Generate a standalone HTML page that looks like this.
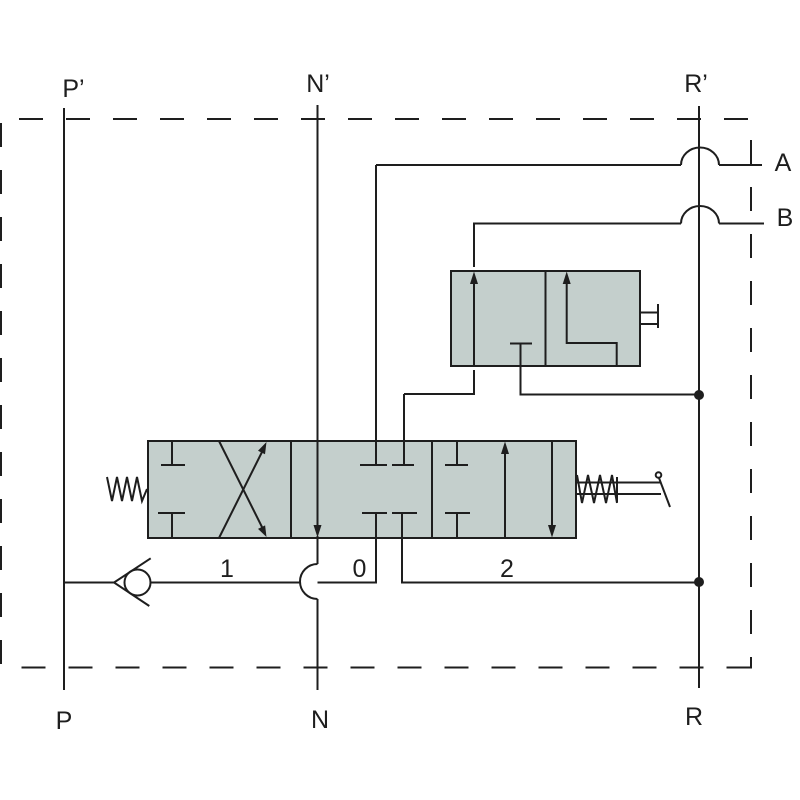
<!DOCTYPE html>
<html>
<head>
<meta charset="utf-8">
<style>
html,body{margin:0;padding:0;background:#fff;}
svg{display:block;}
text{font-family:"Liberation Sans",sans-serif;font-size:25px;fill:#1e1e1e;}
</style>
</head>
<body>
<svg width="800" height="800" viewBox="0 0 800 800" xmlns="http://www.w3.org/2000/svg">
<rect width="800" height="800" fill="#fff"/>
<g stroke="#1e1e1e" stroke-width="2" fill="none">
  <!-- dashed border -->
  <line x1="19" y1="119" x2="751" y2="119" stroke-dasharray="24 23"/>
  <line x1="21.5" y1="667.5" x2="751" y2="667.5" stroke-dasharray="24 23"/>
  <line x1="751" y1="140" x2="751" y2="668.5" stroke-dasharray="24 23"/>
  <line x1="1" y1="123" x2="1" y2="664" stroke-dasharray="24 23"/>

  <!-- main vertical lines -->
  <line x1="64" y1="108" x2="64" y2="690"/>
  <line x1="699" y1="106" x2="699" y2="688"/>
</g>

<!-- main valve block -->
<rect x="148" y="441" width="428" height="97" fill="#c4cfcc" stroke="#1e1e1e" stroke-width="2"/>
<!-- small valve block -->
<rect x="451" y="271" width="189" height="95" fill="#c4cfcc" stroke="#1e1e1e" stroke-width="2"/>

<g stroke="#1e1e1e" stroke-width="2" fill="none">
  <!-- main block dividers -->
  <line x1="291" y1="441" x2="291" y2="538"/>
  <line x1="432" y1="441" x2="432" y2="538"/>

  <!-- left section T stops -->
  <line x1="172" y1="441" x2="172" y2="465"/>
  <line x1="161" y1="465" x2="185" y2="465"/>
  <line x1="172" y1="513" x2="172" y2="538"/>
  <line x1="158" y1="513" x2="185" y2="513"/>
  <!-- X lines -->
  <line x1="219" y1="441" x2="264" y2="531"/>
  <line x1="219" y1="538" x2="264" y2="448"/>

  <!-- N line -->
  <line x1="317.5" y1="105" x2="317.5" y2="528"/>
  <line x1="317.5" y1="536" x2="317.5" y2="564"/>
  <path d="M317.5,564 A17.5,17.5 0 0 0 317.5,599"/>
  <line x1="317.5" y1="599" x2="317.5" y2="690"/>

  <!-- middle section T stops -->
  <line x1="376" y1="165" x2="376" y2="465"/>
  <line x1="360" y1="465" x2="387" y2="465"/>
  <line x1="404" y1="394" x2="404" y2="465"/>
  <line x1="392" y1="465" x2="414" y2="465"/>
  <line x1="362" y1="513" x2="387" y2="513"/>
  <line x1="392" y1="513" x2="417" y2="513"/>
  <polyline points="376,513 376,582.5 317.5,582.5"/>
  <polyline points="402,513 402,582.5 699,582.5"/>

  <!-- right section -->
  <line x1="457" y1="441" x2="457" y2="465"/>
  <line x1="445" y1="465" x2="468" y2="465"/>
  <line x1="457" y1="513" x2="457" y2="538"/>
  <line x1="445" y1="513" x2="470" y2="513"/>
  <line x1="505" y1="538" x2="505" y2="450"/>
  <line x1="552" y1="441" x2="552" y2="528"/>

  <!-- left spring -->
  <polyline points="107,477 112,501 117,477 122,501 127,477 132,501 137,477 142,501 147,489"/>
  <!-- right spring & lever -->
  <polyline points="577,475 582,503 588,475 594,503 600,475 606,503 612,475 617,503"/>
  <line x1="617" y1="477" x2="617" y2="502"/>
  <line x1="576" y1="482.5" x2="661" y2="482.5"/>
  <line x1="576" y1="494" x2="661" y2="494"/>
  <line x1="659" y1="478" x2="670" y2="507"/>
  <circle cx="658.5" cy="475" r="2.8"/>

  <!-- bottom check valve line -->
  <line x1="64" y1="582.5" x2="114" y2="582.5"/>
  <polyline points="150.7,558.3 114,582.5 149.3,606"/>
  <circle cx="137.5" cy="582.5" r="13"/>
  <line x1="150.5" y1="582.5" x2="300" y2="582.5"/>

  <!-- small valve internals -->
  <line x1="545.5" y1="271" x2="545.5" y2="366"/>
  <line x1="474" y1="366" x2="474" y2="280"/>
  <polyline points="404,394 474,394 474,370"/>
  <line x1="510" y1="343.5" x2="532" y2="343.5"/>
  <polyline points="520.5,343.5 520.5,394.5 699,394.5"/>
  <polyline points="566.7,280 566.7,343 616.7,343 616.7,366"/>
  <line x1="640" y1="312.5" x2="658" y2="312.5"/>
  <line x1="640" y1="324" x2="658" y2="324"/>
  <line x1="658" y1="304" x2="658" y2="328"/>

  <!-- A and B lines with hops -->
  <polyline points="376,165 681,165"/>
  <path d="M681,165 A19,17.5 0 0 1 719,165"/>
  <line x1="719" y1="165" x2="762" y2="165"/>
  <polyline points="474,267 474,223.5 681,223.5"/>
  <path d="M681,223.5 A19,17.5 0 0 1 719,223.5"/>
  <line x1="719" y1="223.5" x2="764" y2="223.5"/>
</g>

<!-- arrowheads -->
<g fill="#1e1e1e" stroke="none">
  <polygon points="317.5,537.5 313.5,525 321.5,525"/>
  <polygon points="266.5,537 258,528.9 265.1,525.4"/>
  <polygon points="266.5,442 265,454.3 258,450.8"/>
  <polygon points="505,441.5 501,454 509,454"/>
  <polygon points="552,537.5 548,525 556,525"/>
  <polygon points="474,271.5 470,284 478,284"/>
  <polygon points="566.7,271.5 562.7,284 570.7,284"/>
  <circle cx="699" cy="395" r="5"/>
  <circle cx="699" cy="582" r="5"/>
</g>

<!-- labels -->
<text x="73.5" y="97" text-anchor="middle">P’</text>
<text x="318" y="92" text-anchor="middle">N’</text>
<text x="696" y="92" text-anchor="middle">R’</text>
<text x="783" y="171" text-anchor="middle">A</text>
<text x="785" y="226" text-anchor="middle">B</text>
<text x="227" y="577" text-anchor="middle">1</text>
<text x="359.5" y="577" text-anchor="middle">0</text>
<text x="507" y="577" text-anchor="middle">2</text>
<text x="64" y="729" text-anchor="middle">P</text>
<text x="320" y="728" text-anchor="middle">N</text>
<text x="694" y="725" text-anchor="middle">R</text>
</svg>
</body>
</html>
